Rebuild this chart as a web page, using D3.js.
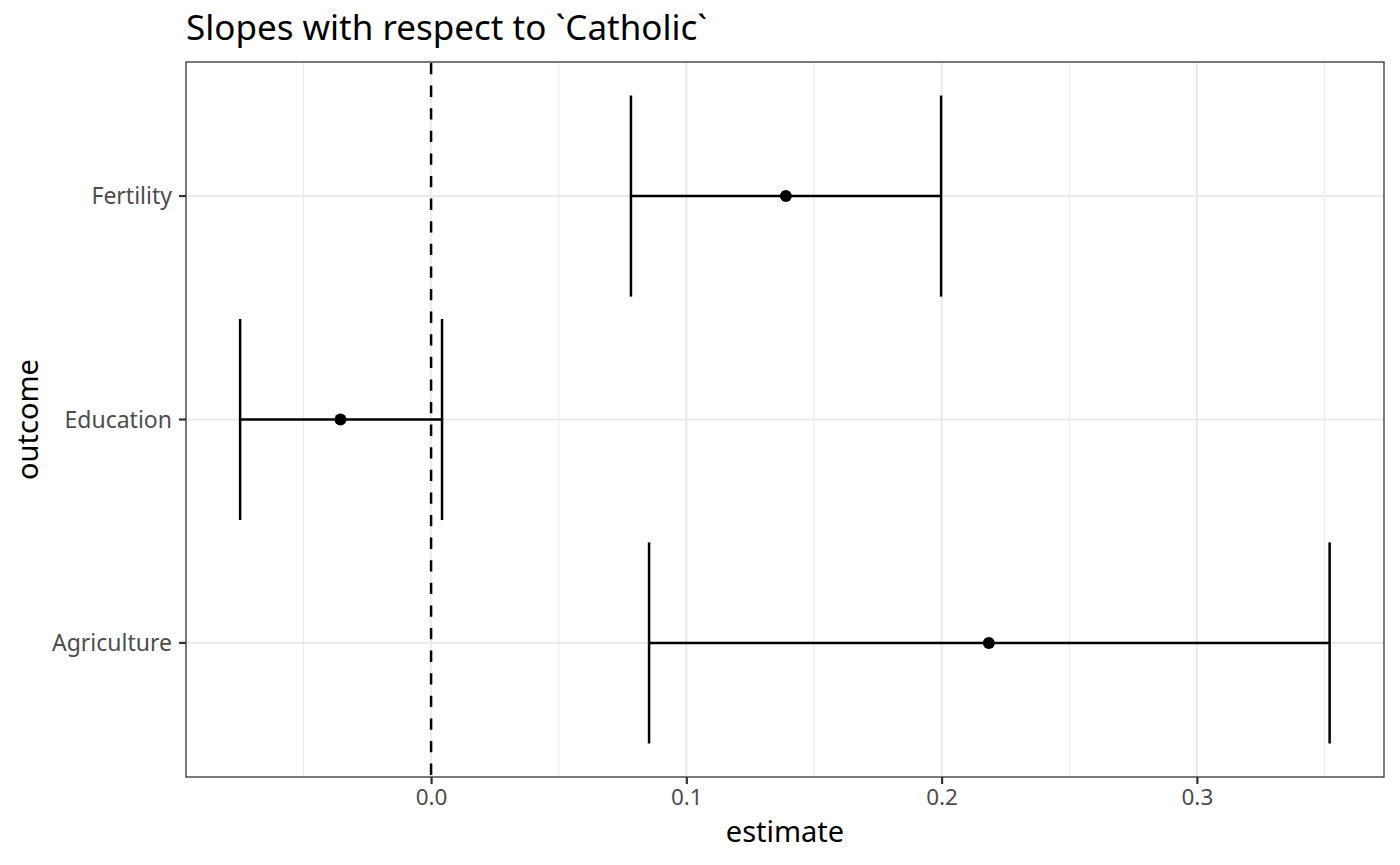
<!DOCTYPE html>
<html>
<head>
<meta charset="utf-8">
<script src="https://cdn.jsdelivr.net/npm/d3@7"></script>
<style>
  body { margin: 0; background: #fff; }
  text { font-family: "Noto Sans", "Open Sans", sans-serif; }
</style>
</head>
<body>
<div id="chart"></div>
<script>
// Estimates and confidence intervals per outcome
const outcomes = ["Fertility", "Education", "Agriculture"];
const estimates = [0.139, -0.0355, 0.2185];
const lows = [0.0783, -0.0748, 0.0854];
const highs = [0.1998, 0.0043, 0.352];
const xTicks = [0.0, 0.1, 0.2, 0.3];
const xMinor = [-0.05, 0.05, 0.15, 0.25, 0.35];

const width = 1400, height = 865;
const margin = { top: 62, right: 16, bottom: 88, left: 186 };
const pw = width - margin.left - margin.right;
const ph = height - margin.top - margin.bottom;

const svg = d3.select("#chart")
    .append("svg")
    .attr("width", width)
    .attr("height", height);

const x = d3.scaleLinear()
    .domain([-0.096, 0.3733])
    .range([0, pw]);

// discrete axis with ggplot-style 0.6 expansion
const yIdx = d3.scaleLinear()
    .domain([3.6, 0.4])
    .range([0, ph]);
const y = (name) => yIdx(outcomes.length - outcomes.indexOf(name));

const g = svg.append("g")
    .attr("transform", `translate(${margin.left},${margin.top})`);

// minor grid
g.selectAll(".minor")
    .data(xMinor)
    .enter()
    .append("line")
    .attr("x1", (d) => x(d))
    .attr("x2", (d) => x(d))
    .attr("y1", 0)
    .attr("y2", ph)
    .attr("stroke", "#EBEBEB")
    .attr("stroke-width", 1.1);

// major grid
g.selectAll(".majorx")
    .data(xTicks)
    .enter()
    .append("line")
    .attr("x1", (d) => x(d))
    .attr("x2", (d) => x(d))
    .attr("y1", 0)
    .attr("y2", ph)
    .attr("stroke", "#EBEBEB")
    .attr("stroke-width", 2.2);

g.selectAll(".majory")
    .data(outcomes)
    .enter()
    .append("line")
    .attr("x1", 0)
    .attr("x2", pw)
    .attr("y1", (d) => y(d))
    .attr("y2", (d) => y(d))
    .attr("stroke", "#EBEBEB")
    .attr("stroke-width", 2.2);

// reference line at zero
g.append("line")
    .attr("x1", x(0))
    .attr("x2", x(0))
    .attr("y1", 1)
    .attr("y2", ph)
    .attr("stroke", "#000")
    .attr("stroke-width", 2.5)
    .attr("stroke-dasharray", "11.3,11.3");

// error bars
const capH = (yIdx(0) - yIdx(0.9)) / 2;
const rows = outcomes.map((o, i) => ({ o, est: estimates[i], lo: lows[i], hi: highs[i] }));

const bars = g.selectAll(".bar")
    .data(rows)
    .enter()
    .append("g");

bars.append("line")
    .attr("x1", (d) => x(d.lo))
    .attr("x2", (d) => x(d.hi))
    .attr("y1", (d) => y(d.o))
    .attr("y2", (d) => y(d.o))
    .attr("stroke", "#000")
    .attr("stroke-width", 2.5);

bars.append("line")
    .attr("x1", (d) => x(d.lo))
    .attr("x2", (d) => x(d.lo))
    .attr("y1", (d) => y(d.o) - capH)
    .attr("y2", (d) => y(d.o) + capH)
    .attr("stroke", "#000")
    .attr("stroke-width", 2.5);

bars.append("line")
    .attr("x1", (d) => x(d.hi))
    .attr("x2", (d) => x(d.hi))
    .attr("y1", (d) => y(d.o) - capH)
    .attr("y2", (d) => y(d.o) + capH)
    .attr("stroke", "#000")
    .attr("stroke-width", 2.5);

bars.append("circle")
    .attr("cx", (d) => x(d.est))
    .attr("cy", (d) => y(d.o))
    .attr("r", 6)
    .attr("fill", "#000");

// panel border
g.append("rect")
    .attr("x", 0)
    .attr("y", 0)
    .attr("width", pw)
    .attr("height", ph)
    .attr("fill", "none")
    .attr("stroke", "#333333")
    .attr("stroke-width", 1.3);

// x axis
const xAxis = g.append("g")
    .attr("transform", `translate(0,${ph})`)
    .call(d3.axisBottom(x).tickValues(xTicks).tickFormat(d3.format(".1f")).tickSize(7).tickPadding(5));
xAxis.select(".domain").remove();
xAxis.selectAll("line").attr("stroke", "#333333").attr("stroke-width", 2.2);
xAxis.selectAll("text")
    .attr("fill", "#4D4D4D")
    .style("font-size", "22.5px")
    .style("font-family", "'Noto Sans', sans-serif");

// y axis
const yAxis = g.append("g");
yAxis.selectAll(".tick")
    .data(outcomes)
    .enter()
    .append("g")
    .each(function (d) {
        const t = d3.select(this);
        t.append("line")
            .attr("x1", -7)
            .attr("x2", 0)
            .attr("y1", y(d))
            .attr("y2", y(d))
            .attr("stroke", "#333333")
            .attr("stroke-width", 2.2);
        t.append("text")
            .attr("x", -14)
            .attr("y", y(d))
            .attr("dy", "0.35em")
            .attr("text-anchor", "end")
            .attr("fill", "#4D4D4D")
            .style("font-size", "23px")
            .text(d);
    });

// titles
svg.append("text")
    .attr("x", margin.left + pw / 2)
    .attr("y", 842)
    .attr("text-anchor", "middle")
    .style("font-size", "29px")
    .text("estimate");

svg.append("text")
    .attr("transform", `translate(38,${margin.top + ph / 2}) rotate(-90)`)
    .attr("text-anchor", "middle")
    .style("font-size", "29px")
    .text("outcome");

svg.append("text")
    .attr("x", margin.left)
    .attr("y", 40)
    .style("font-size", "35px")
    .text("Slopes with respect to `Catholic`");
</script>
</body>
</html>
